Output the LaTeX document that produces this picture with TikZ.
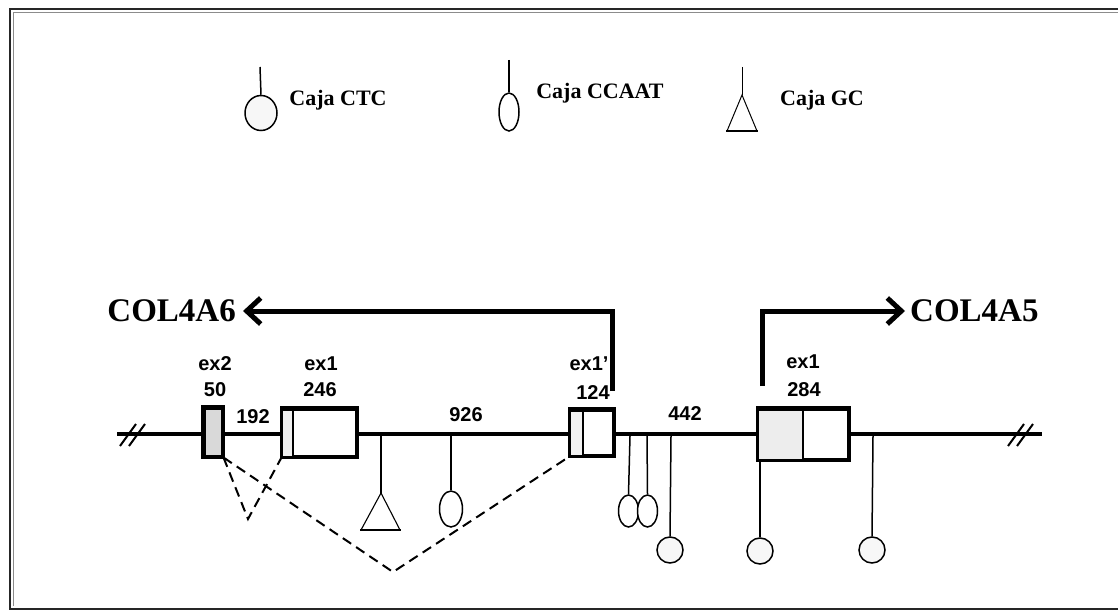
\documentclass[tikz,border=0pt]{standalone}
\usepackage{fontspec}
\setmainfont{Liberation Serif}
\newfontfamily\lsans{Liberation Sans}
\usetikzlibrary{arrows.meta,shapes.geometric}
\begin{document}
\begin{tikzpicture}[x=1pt,y=-1pt,
  lbl/.style={font=\lsans\bfseries\fontsize{20}{20}\selectfont, inner sep=0},
  gene/.style={font=\bfseries\fontsize{33}{33}\selectfont, inner sep=0},
  legend/.style={font=\bfseries\fontsize{22}{22}\selectfont, inner sep=0},
  exbox/.style={draw, line width=3pt, fill=white, inner sep=0, rectangle},
  stem/.style={line width=1.5pt},
  ctc/.style={draw, circle, line width=1.5pt, fill=white, minimum size=26pt, inner sep=0},
  ccaat/.style={draw, ellipse, line width=1.5pt, fill=white, minimum width=21pt, minimum height=33pt, inner sep=0},
  splice/.style={line width=2pt, dash pattern=on 10pt off 6pt},
  dir/.style={line width=5pt, -{Straight Barb[length=14pt,width=26pt]}},
  frame/.style={line width=2pt, black!85}
]
\useasboundingbox (0,0) rectangle (1118,612);
% frame
\draw[frame] (1118,9.5) -- (10,9.5) -- (10,608.5) -- (1118,608.5);
\draw[line width=0.8pt, black!45] (1118,12.5) -- (13,12.5) -- (13,605.5);

% legend
\coordinate (lg1t) at (260,67);
\node[ccaat, minimum width=32pt, minimum height=35pt, fill=gray!6] (lg1) at (261,113) {};
\draw[stem] (lg1t) -- (lg1.north);
\node[legend] (lg1txt) at (338,100) {Caja CTC};

\coordinate (lg2t) at (509,60);
\node[ccaat, minimum width=20pt, minimum height=38pt] (lg2) at (509,112) {};
\draw[stem] (lg2t) -- (lg2.north);
\node[legend] (lg2txt) at (600,93) {Caja CCAAT};

\coordinate (lg3t) at (742,67);
\coordinate (lg3) at (742,95);
\draw[line width=0.9pt] (lg3t) -- (lg3);
\draw[line width=1pt] (lg3) -- (727,131) -- (757,131) -- cycle;
\draw[line width=2pt] (726,131) -- (758,131);
\node[legend] (lg3txt) at (822,100) {Caja GC};

% main line
\coordinate (ls) at (117,434);
\coordinate (le) at (1042,434);
\draw[line width=4pt] (ls) -- (le);
\draw[line width=2pt] (120,446) -- (136,424) (129,446) -- (145,424);
\draw[line width=2pt] (1008,446) -- (1024,424) (1017,446) -- (1033,424);

% splice vertices
\coordinate (v1) at (248,519);
\coordinate (v2) at (393,572);

% exons
\node[exbox, fill=gray!30, minimum width=18pt, minimum height=48pt] (ex2) at (213,432) {};
\node[exbox, minimum width=73pt, minimum height=47pt] (ex1a) at (319.5,432.5) {};
\fill[gray!12] ([shift={(1.5pt,-1.5pt)}]ex1a.south west) rectangle (293,{432.5-22});
\draw[line width=2.5pt] (293,409) -- (293,456);
\node[exbox, minimum width=42pt, minimum height=45pt] (ex1p) at (592,432.5) {};
\fill[gray!10] ([shift={(1.5pt,-1.5pt)}]ex1p.south west) rectangle (583,411.5);
\draw[line width=2.5pt] (583,410) -- (583,455);
\node[exbox, minimum width=89pt, minimum height=50pt] (ex1b) at (803.5,434) {};
\fill[gray!14] ([shift={(1.5pt,-1.5pt)}]ex1b.south west) rectangle (803,410.5);
\draw[line width=2.5pt] (803,409) -- (803,459);
\draw[line width=3pt] (ex2.south west) rectangle (ex2.north east);
\draw[line width=3pt] (ex1a.south west) rectangle (ex1a.north east);
\draw[line width=3pt] (ex1p.south west) rectangle (ex1p.north east);
\draw[line width=3pt] (ex1b.south west) rectangle (ex1b.north east);

% splicing
\draw[splice] (ex2.south east) -- (v1) -- (ex1a.south west);
\draw[splice] (ex2.south east) -- (v2) -- (ex1p.south west);

% labels
\node[lbl] (t1) at (215,364) {ex2};
\node[lbl] (t2) at (215,390) {50};
\node[lbl] (t3) at (253,417) {192};
\node[lbl] (t4) at (321,364) {ex1};
\node[lbl] (t5) at (320,390) {246};
\node[lbl] (t6) at (466,415) {926};
\node[lbl] (t7) at (589,364) {ex1’};
\node[lbl] (t8) at (593,393) {124};
\node[lbl] (t9) at (685,414) {442};
\node[lbl] (t10) at (803,362) {ex1};
\node[lbl] (t11) at (804,390) {284};

% genes and arrows
\node[gene, anchor=east] (g6) at (236,311) {COL4A6};
\node[gene, anchor=west] (g5) at (910,311) {COL4A5};
\coordinate (a6) at (612,391);
\coordinate (a5) at (762,386);
\draw[dir] (a6) |- ([xshift=7pt]g6.east);
\draw[dir] (a5) |- ([xshift=-5pt]g5.west);

% pendant elements
\coordinate (p1) at (381,436);
\coordinate (gcA) at (381,493);
\draw[stem] (p1) -- (gcA);
\draw[line width=1.1pt] (gcA) -- (361,530) -- (400,530) -- cycle;
\draw[line width=2pt] (360,530) -- (401,530);

\coordinate (p2) at (451,436);
\node[ccaat, minimum width=23pt, minimum height=36pt] (c1) at (451,509) {};
\draw[stem] (p2) -- (c1.north);

\coordinate (p3) at (630,436);
\coordinate (p4) at (647,436);
\node[ccaat, minimum width=20pt, minimum height=32pt] (c2) at (628.5,511) {};
\node[ccaat, minimum width=20pt, minimum height=32pt] (c3) at (647.5,511) {};
\draw[stem] (p3) -- (c2.north);
\draw[stem] (p4) -- (c3.north);

\coordinate (p5) at (671,436);
\node[ctc, fill=gray!6] (o1) at (670,550) {};
\draw[stem] (p5) -- (o1.north);

\coordinate (p6) at (760,459);
\node[ctc, fill=gray!6] (o2) at (760,551) {};
\draw[stem] (p6) -- (o2.north);

\coordinate (p7) at (873,436);
\node[ctc, fill=gray!6] (o3) at (872,550) {};
\draw[stem] (p7) -- (o3.north);
\end{tikzpicture}
\end{document}
